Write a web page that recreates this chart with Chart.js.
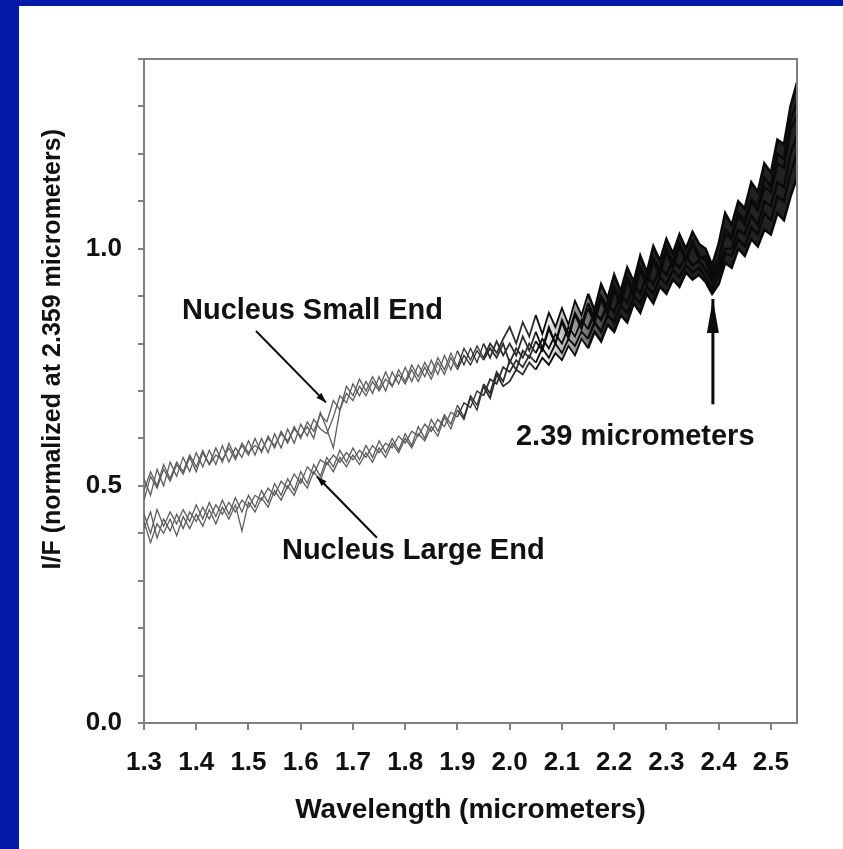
<!DOCTYPE html>
<html>
<head>
<meta charset="utf-8">
<script src="https://cdn.jsdelivr.net/npm/chart.js@4.4.1/dist/chart.umd.min.js"></script>
<style>
  body { margin: 0; background: #fff; }
  canvas { display: block; }
</style>
</head>
<body>
<canvas id="myChart" width="843" height="849"></canvas>
<script>
// wavelength grid (micrometers)
const wavelength = [
  1.3, 1.3125, 1.325, 1.3375, 1.35, 1.3625, 1.375, 1.3875,
  1.4, 1.4125, 1.425, 1.4375, 1.45, 1.4625, 1.475, 1.4875,
  1.5, 1.5125, 1.525, 1.5375, 1.55, 1.5625, 1.575, 1.5875,
  1.6, 1.6125, 1.625, 1.6375, 1.65, 1.6625, 1.675, 1.6875,
  1.7, 1.7125, 1.725, 1.7375, 1.75, 1.7625, 1.775, 1.7875,
  1.8, 1.8125, 1.825, 1.8375, 1.85, 1.8625, 1.875, 1.8875,
  1.9, 1.9125, 1.925, 1.9375, 1.95, 1.9625, 1.975, 1.9875,
  2.0, 2.0125, 2.025, 2.0375, 2.05, 2.0625, 2.075, 2.0875,
  2.1, 2.1125, 2.125, 2.1375, 2.15, 2.1625, 2.175, 2.1875,
  2.2, 2.2125, 2.225, 2.2375, 2.25, 2.2625, 2.275, 2.2875,
  2.3, 2.3125, 2.325, 2.3375, 2.35, 2.3625, 2.375, 2.3875,
  2.4, 2.4125, 2.425, 2.4375, 2.45, 2.4625, 2.475, 2.4875,
  2.5, 2.5125, 2.525, 2.5375, 2.55
];

// nucleus small end spectra (I/F)
const smallEnd1 = [
  0.49, 0.53, 0.50, 0.545, 0.515, 0.55, 0.53, 0.565,
  0.54, 0.575, 0.545, 0.58, 0.55, 0.59, 0.56, 0.585,
  0.565, 0.60, 0.57, 0.605, 0.58, 0.615, 0.59, 0.625,
  0.60, 0.635, 0.615, 0.65, 0.635, 0.68, 0.66, 0.71,
  0.69, 0.725, 0.70, 0.73, 0.705, 0.74, 0.71, 0.745,
  0.72, 0.755, 0.73, 0.76, 0.735, 0.77, 0.745, 0.78,
  0.75, 0.79, 0.765, 0.795, 0.77, 0.80, 0.78, 0.81,
  0.835, 0.80, 0.845, 0.815, 0.86, 0.82, 0.865, 0.835,
  0.875, 0.84, 0.89, 0.86, 0.905, 0.87, 0.925, 0.895,
  0.945, 0.91, 0.96, 0.93, 0.985, 0.95, 1.005, 0.975,
  1.02, 0.99, 1.03, 1.0, 1.035, 1.01, 1.0, 0.965,
  1.01, 1.075, 1.05, 1.10, 1.085, 1.14, 1.12, 1.18,
  1.16, 1.23, 1.22, 1.30, 1.35
];
const smallEnd2 = [
  0.515, 0.48, 0.535, 0.50, 0.55, 0.52, 0.56, 0.53,
  0.57, 0.54, 0.575, 0.545, 0.585, 0.55, 0.58, 0.56,
  0.595, 0.565, 0.60, 0.57, 0.61, 0.58, 0.62, 0.59,
  0.63, 0.605, 0.64, 0.62, 0.61, 0.645, 0.69, 0.675,
  0.715, 0.69, 0.72, 0.695, 0.73, 0.70, 0.74, 0.715,
  0.75, 0.72, 0.755, 0.73, 0.765, 0.735, 0.775, 0.745,
  0.785, 0.755, 0.79, 0.76, 0.80, 0.77, 0.805, 0.775,
  0.80, 0.775, 0.815, 0.785, 0.825, 0.79, 0.835, 0.80,
  0.845, 0.81, 0.86, 0.83, 0.875, 0.845, 0.895, 0.86,
  0.915, 0.88, 0.935, 0.90, 0.955, 0.925, 0.975, 0.945,
  0.995, 0.96, 1.005, 0.975, 1.01, 0.98, 0.985, 0.95,
  0.98, 1.03, 1.02, 1.07, 1.05, 1.10, 1.08, 1.13,
  1.12, 1.18, 1.17, 1.25, 1.28
];
const smallEnd3 = [
  0.47, 0.52, 0.495, 0.535, 0.51, 0.545, 0.525, 0.56,
  0.53, 0.57, 0.545, 0.565, 0.555, 0.58, 0.555, 0.59,
  0.57, 0.585, 0.575, 0.60, 0.585, 0.61, 0.595, 0.62,
  0.605, 0.625, 0.60, 0.655, 0.62, 0.58, 0.66, 0.695,
  0.68, 0.71, 0.69, 0.72, 0.70, 0.725, 0.71, 0.735,
  0.715, 0.745, 0.72, 0.75, 0.725, 0.76, 0.735, 0.77,
  0.745, 0.775, 0.755, 0.785, 0.765, 0.79, 0.77, 0.80,
  0.76, 0.79, 0.77, 0.80, 0.78, 0.81, 0.79, 0.82,
  0.80, 0.835, 0.815, 0.85, 0.83, 0.865, 0.85, 0.885,
  0.865, 0.905, 0.885, 0.925, 0.905, 0.945, 0.925, 0.96,
  0.945, 0.975, 0.96, 0.985, 0.965, 0.975, 0.955, 0.93,
  0.96, 1.0, 1.0, 1.04, 1.03, 1.07, 1.05, 1.10,
  1.09, 1.14, 1.13, 1.20, 1.24
];

// nucleus large end spectra (I/F)
const largeEnd1 = [
  0.44, 0.40, 0.45, 0.415, 0.445, 0.42, 0.45, 0.425,
  0.46, 0.43, 0.465, 0.435, 0.47, 0.44, 0.475, 0.445,
  0.48, 0.455, 0.49, 0.465, 0.505, 0.48, 0.515, 0.49,
  0.53, 0.505, 0.545, 0.52, 0.56, 0.54, 0.575, 0.55,
  0.58, 0.555, 0.585, 0.56, 0.595, 0.57, 0.60, 0.575,
  0.61, 0.585, 0.625, 0.60, 0.64, 0.615, 0.65, 0.63,
  0.67, 0.645, 0.69, 0.67, 0.715, 0.695, 0.74, 0.72,
  0.765, 0.745, 0.785, 0.77, 0.805, 0.785, 0.83, 0.80,
  0.85, 0.82, 0.865, 0.84, 0.885, 0.855, 0.90, 0.875,
  0.92, 0.89, 0.94, 0.91, 0.96, 0.935, 0.98, 0.955,
  1.0, 0.97, 1.01, 0.98, 1.015, 0.985, 0.975, 0.94,
  0.975, 1.04, 1.025, 1.075, 1.06, 1.105, 1.09, 1.15,
  1.13, 1.20, 1.19, 1.27, 1.31
];
const largeEnd2 = [
  0.41, 0.445, 0.39, 0.43, 0.405, 0.44, 0.41, 0.445,
  0.425, 0.455, 0.43, 0.46, 0.44, 0.465, 0.445, 0.47,
  0.455, 0.48, 0.47, 0.495, 0.48, 0.51, 0.495, 0.525,
  0.505, 0.54, 0.525, 0.555, 0.545, 0.565, 0.55, 0.57,
  0.555, 0.575, 0.56, 0.585, 0.57, 0.59, 0.58, 0.605,
  0.59, 0.615, 0.605, 0.63, 0.615, 0.64, 0.625, 0.655,
  0.645, 0.675, 0.665, 0.70, 0.69, 0.725, 0.715, 0.75,
  0.74, 0.765, 0.75, 0.775, 0.76, 0.79, 0.77, 0.80,
  0.78, 0.81, 0.795, 0.825, 0.81, 0.845, 0.825, 0.86,
  0.845, 0.88, 0.865, 0.90, 0.885, 0.92, 0.905, 0.94,
  0.925, 0.955, 0.94, 0.965, 0.95, 0.96, 0.94, 0.915,
  0.945, 0.99, 0.985, 1.02, 1.005, 1.045, 1.03, 1.075,
  1.06, 1.11, 1.10, 1.16, 1.20
];
const largeEnd3 = [
  0.425, 0.38, 0.42, 0.40, 0.43, 0.395, 0.435, 0.41,
  0.44, 0.415, 0.45, 0.42, 0.455, 0.43, 0.46, 0.405,
  0.465, 0.445, 0.475, 0.455, 0.49, 0.47, 0.50, 0.48,
  0.515, 0.495, 0.53, 0.51, 0.55, 0.53, 0.56, 0.54,
  0.565, 0.545, 0.57, 0.55, 0.58, 0.56, 0.59, 0.57,
  0.60, 0.58, 0.61, 0.595, 0.625, 0.605, 0.645, 0.62,
  0.66, 0.64, 0.685, 0.66, 0.71, 0.685, 0.735, 0.71,
  0.72, 0.745, 0.735, 0.76, 0.745, 0.77, 0.755, 0.78,
  0.765, 0.795, 0.775, 0.81, 0.79, 0.825, 0.805, 0.84,
  0.825, 0.86, 0.845, 0.885, 0.865, 0.905, 0.885, 0.92,
  0.905, 0.935, 0.92, 0.95, 0.935, 0.945, 0.93, 0.905,
  0.925, 0.97, 0.96, 1.0, 0.985, 1.02, 1.005, 1.04,
  1.03, 1.075, 1.06, 1.11, 1.15
];

const yLabels = [0.0, 0.5, 1.0];

// text callouts, placed in data coordinates
const callouts = [
  { text: 'Nucleus Small End', x: 1.3727, y: 0.869, line: [1.5144, 0.8265, 1.6483, 0.676] },
  { text: 'Nucleus Large End', x: 1.5641, y: 0.363, line: [1.7459, 0.3907, 1.6311, 0.5198] },
  { text: '2.39 micrometers', x: 2.012, y: 0.604, line: [2.389, 0.672, 2.389, 0.894], bigHead: true }
];

const FONT = "'Liberation Sans', Arial, sans-serif";

function segColor(c) {
  const x = c.p0.parsed.x;
  if (x >= 2.05) return '#0a0a0a';
  if (x >= 1.9) return '#2e2e2e';
  return '#5c5c5c';
}
function segWidth(c) {
  const x = c.p0.parsed.x;
  if (x >= 2.15) return 2.6;
  if (x >= 1.95) return 1.8;
  return 1.3;
}
// dense overlap of many spectra past ~2.1 um reads as a solid dark band
function bandFill(c) {
  const chart = c.chart;
  if (!chart.chartArea) return 'rgba(0,0,0,0)';
  const x0 = chart.scales.x.getPixelForValue(2.06);
  const x1 = chart.scales.x.getPixelForValue(2.2);
  const g = chart.ctx.createLinearGradient(x0, 0, x1, 0);
  g.addColorStop(0, 'rgba(10,10,10,0)');
  g.addColorStop(1, 'rgba(10,10,10,0.9)');
  return g;
}

const series = [smallEnd1, smallEnd2, smallEnd3, largeEnd1, largeEnd2, largeEnd3];
const datasets = series.map((vals, k) => ({
  data: vals.map((v, i) => ({ x: wavelength[i], y: v })),
  borderColor: '#5c5c5c',
  borderWidth: 1.3,
  pointRadius: 0,
  tension: 0,
  fill: k === 0 ? 5 : false,
  backgroundColor: k === 0 ? bandFill : 'rgba(0,0,0,0)',
  segment: { borderColor: segColor, borderWidth: segWidth }
}));

function arrowHead(ctx, x0, y0, x1, y1, len, half) {
  const a = Math.atan2(y1 - y0, x1 - x0);
  ctx.beginPath();
  ctx.moveTo(x1, y1);
  ctx.lineTo(x1 - len * Math.cos(a) + half * Math.sin(a), y1 - len * Math.sin(a) - half * Math.cos(a));
  ctx.lineTo(x1 - len * Math.cos(a) - half * Math.sin(a), y1 - len * Math.sin(a) + half * Math.cos(a));
  ctx.closePath();
  ctx.fill();
}

const framePlugin = {
  id: 'frame',
  beforeDraw(chart) {
    const ctx = chart.ctx;
    ctx.save();
    ctx.fillStyle = '#0219a9';
    ctx.fillRect(0, 0, chart.width, chart.height);
    ctx.fillStyle = '#ffffff';
    ctx.fillRect(19, 6, chart.width - 19, chart.height - 6);
    ctx.restore();
  },
  afterDraw(chart) {
    const { ctx, chartArea: a, scales: { x, y } } = chart;
    ctx.save();
    // top and right frame
    ctx.strokeStyle = '#808080';
    ctx.lineWidth = 2;
    ctx.beginPath();
    ctx.moveTo(a.left, a.top);
    ctx.lineTo(a.right, a.top);
    ctx.lineTo(a.right, a.bottom);
    ctx.stroke();

    // axis titles
    ctx.fillStyle = '#111';
    ctx.font = 'bold 28px ' + FONT;
    ctx.textAlign = 'center';
    ctx.textBaseline = 'middle';
    ctx.fillText('Wavelength (micrometers)', (a.left + a.right) / 2, 810);
    ctx.save();
    ctx.translate(53, y.getPixelForValue(0.788));
    ctx.rotate(-Math.PI / 2);
    ctx.font = 'bold 25px ' + FONT;
    ctx.fillText('I/F (normalized at 2.359 micrometers)', 0, 0);
    ctx.restore();

    // callouts
    ctx.font = 'bold 29px ' + FONT;
    ctx.textAlign = 'left';
    callouts.forEach(c => {
      ctx.fillStyle = '#111';
      ctx.fillText(c.text, x.getPixelForValue(c.x), y.getPixelForValue(c.y));
      const x0 = x.getPixelForValue(c.line[0]), y0 = y.getPixelForValue(c.line[1]);
      const x1 = x.getPixelForValue(c.line[2]), y1 = y.getPixelForValue(c.line[3]);
      ctx.strokeStyle = '#0a0a0a';
      ctx.fillStyle = '#0a0a0a';
      ctx.lineWidth = c.bigHead ? 3 : 2;
      ctx.beginPath();
      ctx.moveTo(x0, y0);
      ctx.lineTo(x1, y1);
      ctx.stroke();
      if (c.bigHead) arrowHead(ctx, x0, y0, x1, y1, 34, 6);
      else arrowHead(ctx, x0, y0, x1, y1, 10, 3.5);
    });
    ctx.restore();
  }
};

const myChart = document.getElementById('myChart').getContext('2d');

const spectraChart = new Chart(myChart, {
  type: 'line',
  data: { datasets: datasets },
  options: {
    responsive: false,
    animation: false,
    layout: { padding: { top: 59, right: 46, left: 0, bottom: 0 } },
    plugins: { legend: { display: false }, tooltip: { enabled: false }, filler: { propagate: false } },
    scales: {
      x: {
        type: 'linear',
        min: 1.3,
        max: 2.55,
        afterFit: s => { s.height = 126; },
        border: { color: '#808080', width: 2 },
        grid: { drawOnChartArea: false, color: '#808080', tickLength: 7, lineWidth: 2 },
        ticks: {
          stepSize: 0.1,
          includeBounds: false,
          padding: 17,
          color: '#111',
          font: { family: FONT, size: 26, weight: 'bold' },
          maxRotation: 0,
          autoSkip: false,
          callback: v => {
            const r = Math.round(v * 10) / 10;
            return Math.abs(r - v) < 1e-6 ? r.toFixed(1) : '';
          }
        }
      },
      y: {
        min: 0,
        max: 1.4,
        afterFit: s => { s.width = 144; },
        border: { color: '#808080', width: 2 },
        grid: { drawOnChartArea: false, color: '#808080', tickLength: 6, lineWidth: 2 },
        ticks: {
          stepSize: 0.1,
          padding: 16,
          color: '#111',
          font: { family: FONT, size: 26, weight: 'bold' },
          autoSkip: false,
          callback: v => {
            const hit = yLabels.find(l => Math.abs(l - v) < 1e-6);
            return hit === undefined ? '' : hit.toFixed(1);
          }
        }
      }
    }
  },
  plugins: [framePlugin]
});
</script>
</body>
</html>
